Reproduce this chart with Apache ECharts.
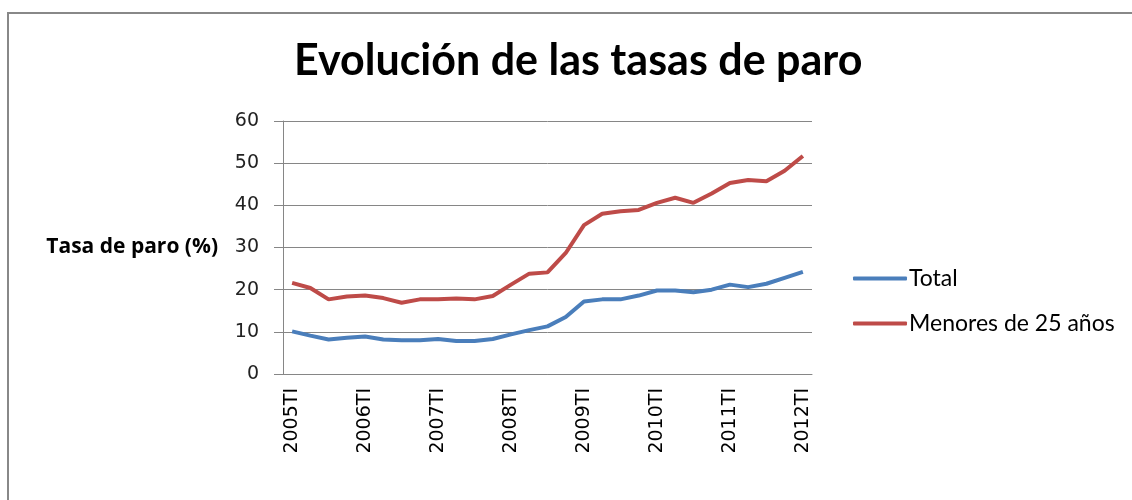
<!DOCTYPE html>
<html>
<head>
<meta charset="utf-8">
<script src="https://cdn.jsdelivr.net/npm/echarts@6/dist/echarts.min.js"></script>
<style>
  html, body { margin: 0; padding: 0; background: #fff; }
  #chart { width: 1132px; height: 500px; }
</style>
</head>
<body>
<div id="chart"></div>
<script>
// trimestres 2005TI .. 2012TI
var years = ['2005', '2006', '2007', '2008', '2009', '2010', '2011', '2012'];
var quarters = ['TI', 'TII', 'TIII', 'TIV'];
var categories = [];
years.forEach(function (y, i) {
    quarters.forEach(function (q, j) {
        if (i < years.length - 1 || j === 0) categories.push(y + q);
    });
});

var total = [10.1, 9.1, 8.2, 8.6, 8.9, 8.2, 8.0, 8.0, 8.3, 7.8, 7.8, 8.3, 9.4, 10.4, 11.3, 13.5,
    17.2, 17.7, 17.7, 18.6, 19.8, 19.8, 19.4, 20.0, 21.2, 20.6, 21.4, 22.8, 24.2];
var menores25 = [21.6, 20.4, 17.7, 18.4, 18.6, 18.0, 16.9, 17.7, 17.7, 17.9, 17.7, 18.5, 21.2, 23.8, 24.1, 28.7,
    35.3, 38.0, 38.6, 38.9, 40.6, 41.8, 40.6, 42.8, 45.3, 46.0, 45.7, 48.2, 51.7];

var font = 'Lato';
var chart = echarts.init(document.getElementById('chart'));

chart.setOption({
    animation: false,
    backgroundColor: '#fff',
    graphic: [{
        type: 'rect',
        shape: { x: 8, y: 13, width: 1200, height: 600 },
        style: { fill: 'none', stroke: '#888', lineWidth: 2 }
    }],
    title: {
        text: 'Evolución de las tasas de paro',
        left: 289,
        top: 35,
        textStyle: { fontFamily: font, fontWeight: 'bold', fontSize: 43, color: '#000' }
    },
    legend: {
        orient: 'vertical',
        left: 848,
        top: 262,
        itemWidth: 54,
        itemHeight: 4,
        itemGap: 22,
        icon: 'roundRect',
        textStyle: { fontFamily: font, fontSize: 23, color: '#000', padding: [0, 0, 0, -3] },
        data: ['Total', 'Menores de 25 años']
    },
    grid: { left: 283, top: 121, right: 320, bottom: 126 },
    xAxis: {
        type: 'category',
        data: categories,
        boundaryGap: true,
        axisLine: { lineStyle: { color: '#868686', width: 1 } },
        axisTick: { interval: 0, length: 8, lineStyle: { color: '#868686' } },
        axisLabel: {
            interval: 3,
            rotate: 90,
            fontFamily: 'DejaVu Sans',
            fontSize: 19,
            color: '#000',
            margin: 14
        }
    },
    yAxis: {
        type: 'value',
        min: 0,
        max: 60,
        interval: 10,
        name: 'Tasa de paro (%)',
        nameLocation: 'middle',
        nameRotate: 0,
        nameGap: 65,
        nameTextStyle: { fontFamily: 'Open Sans', fontWeight: 'bold', fontSize: 21, color: '#000', align: 'right', verticalAlign: 'middle' },
        axisLine: { show: true, lineStyle: { color: '#868686' } },
        axisTick: { show: true, length: 9, lineStyle: { color: '#868686' } },
        axisLabel: { fontFamily: 'DejaVu Sans', fontSize: 19, color: '#222', margin: 24 },
        splitLine: { lineStyle: { color: '#868686', width: 1 } }
    },
    series: [
        {
            name: 'Total',
            type: 'line',
            data: total,
            symbol: 'none',
            color: '#4a7ebb',
            lineStyle: { width: 4, color: '#4a7ebb' }
        },
        {
            name: 'Menores de 25 años',
            type: 'line',
            data: menores25,
            symbol: 'none',
            color: '#be4b48',
            lineStyle: { width: 4, color: '#be4b48' }
        }
    ]
});
</script>
</body>
</html>
